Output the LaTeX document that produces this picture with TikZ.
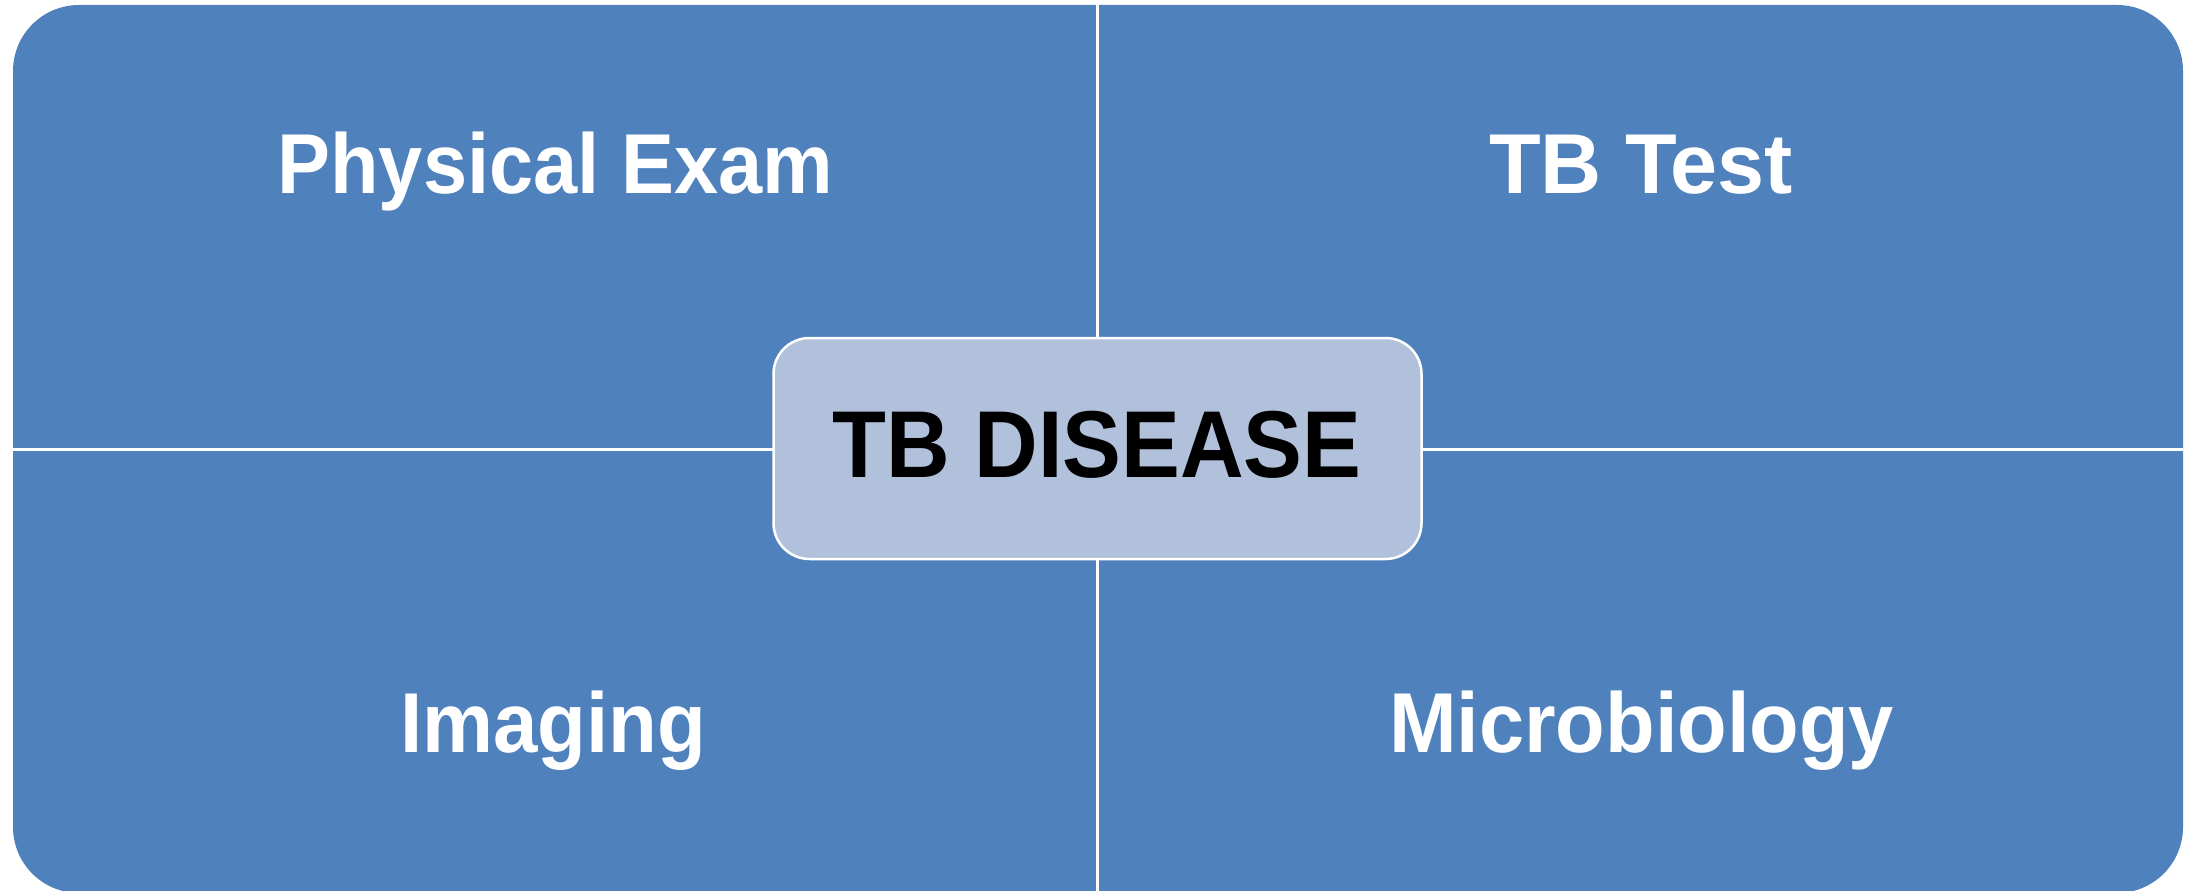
\documentclass[tikz,border=0pt]{standalone}
\usepackage{fontspec}
\setmainfont{Liberation Sans}
\usepackage{graphicx}
\definecolor{quadblue}{RGB}{79,129,189}
\definecolor{centerblue}{RGB}{177,193,220}
\tikzset{
  quadlabel/.style={inner sep=0pt, anchor=base, text=white, font=\bfseries\fontsize{85}{85}\selectfont},
  centerlabel/.style={inner sep=0pt, anchor=base, text=black, font=\bfseries\fontsize{95}{95}\selectfont},
  divider/.style={draw=white, line width=3pt},
  centerbox/.style={rectangle, rounded corners=36pt, fill=centerblue, draw=white, line width=2.5pt, minimum width=648pt, minimum height=221pt, inner sep=0pt}
}
\newcommand{\hfit}[2]{\resizebox{#1}{\height}{#2}}
\begin{document}
\begin{tikzpicture}[x=1pt,y=-1pt]
\useasboundingbox (0,0) rectangle (2196,891);
\fill[quadblue, rounded corners=66pt] (13,5) rectangle (2183,893);
\draw[divider] (1097.5,0) -- (1097.5,891);
\draw[divider] (13,449.7) -- (2183,449.7);
\node[centerbox] (center) at (1097.5,448.5) {};
\node[quadlabel] (pe) at (555.5,193.5) {\hfit{556pt}{Physical Exam}};
\node[quadlabel] (tbt) at (1641,193.5) {\hfit{304pt}{TB Test}};
\node[quadlabel] (img) at (553,752) {\hfit{306pt}{Imaging}};
\node[quadlabel] (micro) at (1641.5,752) {\hfit{505pt}{Microbiology}};
\node[centerlabel] (tbd) at (1097,477) {\hfit{529pt}{TB DISEASE}};
\end{tikzpicture}
\end{document}
